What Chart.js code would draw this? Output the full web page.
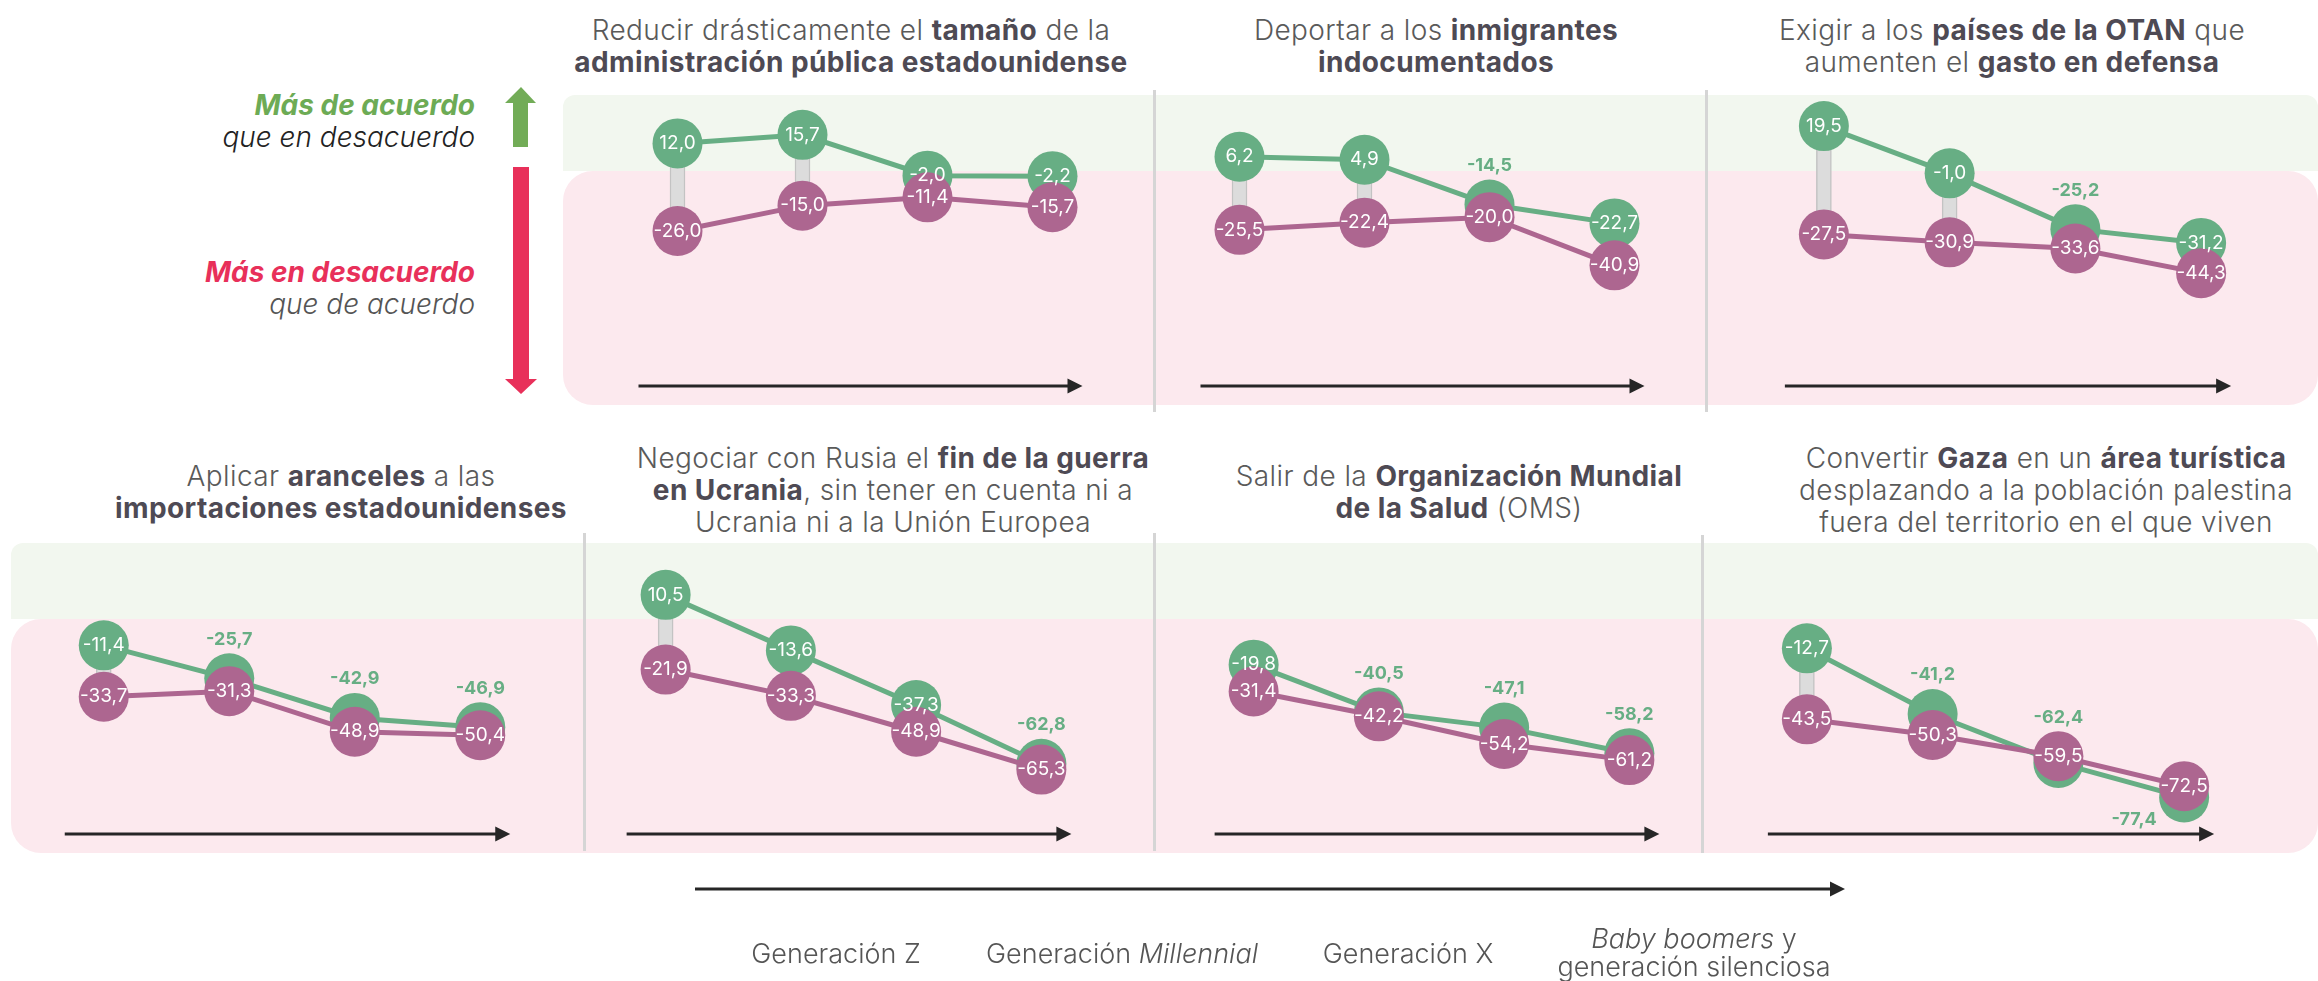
<!DOCTYPE html>
<html lang="es">
<head>
<meta charset="utf-8">
<script src="https://cdn.jsdelivr.net/npm/chart.js@4.4.1/dist/chart.umd.min.js"></script>
<style>
  body { margin: 0; width: 2318px; height: 981px; background: #fff; position: relative; overflow: hidden; font-family: Inter, 'Noto Sans', sans-serif; }
  canvas { position: absolute; }
  .titulo { position: absolute; transform: translateX(-50%); text-align: center; white-space: nowrap;
            font-size: 28px; letter-spacing: 0.4px; line-height: 32px; color: #5a5a5a; font-weight: 300; }
  .titulo b { font-weight: 700; color: #4e4a54; }
  .sep { position: absolute; width: 3px; background: #d5d5d5; z-index: 5; }
  .leyenda { position: absolute; right: 1843px; text-align: right; font-style: italic; font-size: 28px; line-height: 32px; white-space: nowrap; }
</style>
</head>
<body>

<div class="leyenda" style="top:89px">
  <div style="color:#6dab55;font-weight:700">Más de acuerdo</div>
  <div style="color:#222;font-weight:300">que en desacuerdo</div>
</div>
<div class="leyenda" style="top:256px">
  <div style="color:#e8305a;font-weight:700">Más en desacuerdo</div>
  <div style="color:#555;font-weight:300">que de acuerdo</div>
</div>
<svg width="2318" height="981" style="position:absolute;left:0;top:0;pointer-events:none">
  <polygon points="521,87 536,103 528,103 528,147 513,147 513,103 505,103" fill="#72ac57"/>
  <polygon points="513,167 529,167 529,379 537,379 521,394 505,379 513,379" fill="#e8305a"/>
</svg>

<div class="sep" style="left:1153px;top:90px;height:322px"></div>
<div class="sep" style="left:1705px;top:90px;height:322px"></div>
<div class="sep" style="left:583px;top:533px;height:318px"></div>
<div class="sep" style="left:1153px;top:533px;height:318px"></div>
<div class="sep" style="left:1701px;top:535px;height:318px"></div>

<script>
const generaciones = ['Generación Z', 'Generación Millennial', 'Generación X', ['Baby boomers y', 'generación silenciosa']];
const cursivas = ['Millennial', 'Baby boomers'];

// dos series por pregunta, un valor por generación
const verdeAdministracion = [12.0, 15.7, -2.0, -2.2];
const moradoAdministracion = [-26.0, -15.0, -11.4, -15.7];
const verdeDeportar = [6.2, 4.9, -14.5, -22.7];
const moradoDeportar = [-25.5, -22.4, -20.0, -40.9];
const verdeOtan = [19.5, -1.0, -25.2, -31.2];
const moradoOtan = [-27.5, -30.9, -33.6, -44.3];
const verdeAranceles = [-11.4, -25.7, -42.9, -46.9];
const moradoAranceles = [-33.7, -31.3, -48.9, -50.4];
const verdeUcrania = [10.5, -13.6, -37.3, -62.8];
const moradoUcrania = [-21.9, -33.3, -48.9, -65.3];
const verdeOms = [-19.8, -40.5, -47.1, -58.2];
const moradoOms = [-31.4, -42.2, -54.2, -61.2];
const verdeGaza = [-12.7, -41.2, -62.4, -77.4];
const moradoGaza = [-43.5, -50.3, -59.5, -72.5];

const titulos = [
  'Reducir drásticamente el <b>tamaño</b> de la<br><b>administración pública estadounidense</b>',
  'Deportar a los <b>inmigrantes</b><br><b>indocumentados</b>',
  'Exigir a los <b>países de la OTAN</b> que<br>aumenten el <b>gasto en defensa</b>',
  'Aplicar <b>aranceles</b> a las<br><b>importaciones estadounidenses</b>',
  'Negociar con Rusia el <b>fin de la guerra</b><br><b>en Ucrania</b>, sin tener en cuenta ni a<br>Ucrania ni a la Unión Europea',
  'Salir de la <b>Organización Mundial</b><br><b>de la Salud</b> (OMS)',
  'Convertir <b>Gaza</b> en un <b>área turística</b><br>desplazando a la población palestina<br>fuera del territorio en el que viven'
];

const VERDE = '#67ae84';
const MORADO = '#ad6690';
const filaTop = [95, 543];
const ALTO = 310;

const paneles = [
  { verde: verdeAdministracion, morado: moradoAdministracion, x: 563, w: 591, fila: 0, pad: [52, 39], tx: 851, ty: 14, primero: true },
  { verde: verdeDeportar, morado: moradoDeportar, x: 1154, w: 552, fila: 0, pad: [23, 29], tx: 1436, ty: 14 },
  { verde: verdeOtan, morado: moradoOtan, x: 1706, w: 612, fila: 0, pad: [55, 54], tx: 2012, ty: 14, ultimo: true },
  { verde: verdeAranceles, morado: moradoAranceles, x: 11, w: 573, fila: 1, pad: [30, 41], tx: 341, ty: 460, primero: true },
  { verde: verdeUcrania, morado: moradoUcrania, x: 584, w: 570, fila: 1, pad: [19, 50], tx: 893, ty: 442 },
  { verde: verdeOms, morado: moradoOms, x: 1154, w: 548, fila: 1, pad: [37, 10], tx: 1459, ty: 460 },
  { verde: verdeGaza, morado: moradoGaza, x: 1702, w: 616, fila: 1, pad: [42, 71], tx: 2046, ty: 442, ultimo: true }
];

const fmt = v => v.toFixed(1).replace('.', ',');

function flecha(ctx, xa, xb, y)
{
    ctx.strokeStyle = '#262626';
    ctx.fillStyle = '#262626';
    ctx.lineWidth = 3;
    ctx.beginPath();
    ctx.moveTo(xa, y);
    ctx.lineTo(xb - 12, y);
    ctx.stroke();
    ctx.beginPath();
    ctx.moveTo(xb, y);
    ctx.lineTo(xb - 15, y - 7.5);
    ctx.lineTo(xb - 15, y + 7.5);
    ctx.closePath();
    ctx.fill();
}

// franjas verde/rosa y flecha de cada panel
const fondoPlugin = {
    id: 'fondo',
    beforeDatasetsDraw(chart, args, opts)
    {
        const ctx = chart.ctx;
        const area = chart.chartArea;
        const y0 = chart.scales.y.getPixelForValue(0);
        const w = chart.width;
        const a = opts.primero ? 1 : 0, b = opts.ultimo ? 1 : 0;
        ctx.save();
        ctx.fillStyle = '#f2f7ef';
        ctx.beginPath();
        ctx.roundRect(0, area.top, w, y0 - area.top, [12 * a, 12 * b, 0, 0]);
        ctx.fill();
        ctx.fillStyle = '#fce9ee';
        ctx.beginPath();
        ctx.roundRect(0, y0, w, area.bottom - y0, [30 * a, 30 * b, 30 * b, 30 * a]);
        ctx.fill();
        const x = chart.scales.x;
        flecha(ctx, x.getPixelForValue(0) - 39, x.getPixelForValue(3) + 30, area.bottom - 19);
        ctx.restore();
    }
};

const etiquetasPlugin = {
    id: 'etiquetas',
    afterDatasetsDraw(chart)
    {
        const ctx = chart.ctx;
        const verde = chart.data.datasets[1].data;
        const morado = chart.data.datasets[2].data;
        const mv = chart.getDatasetMeta(1).data;
        const mm = chart.getDatasetMeta(2).data;
        ctx.save();
        ctx.textAlign = 'center';
        ctx.textBaseline = 'middle';
        verde.forEach((v, i) =>
        {
            const g = mv[i], m = mm[i];
            const diff = v - morado[i];
            if (diff >= 9.25)
            {
                ctx.font = '400 19px Inter';
                ctx.fillStyle = '#fff';
                ctx.fillText(fmt(v), g.x, g.y);
            }
            else
            {
                ctx.font = '700 18px Inter';
                ctx.fillStyle = VERDE;
                if (diff >= -4) ctx.fillText(fmt(v), g.x, Math.min(g.y, m.y) - 39);
                else ctx.fillText(fmt(v), g.x - 50, g.y + 22);
            }
        });
        ctx.font = '400 19px Inter';
        ctx.fillStyle = '#fff';
        morado.forEach((v, i) => ctx.fillText(fmt(v), mm[i].x, mm[i].y));
        ctx.restore();
    }
};

paneles.forEach((p, k) =>
{
    const t = document.createElement('div');
    t.className = 'titulo';
    t.style.left = p.tx + 'px';
    t.style.top = p.ty + 'px';
    t.innerHTML = titulos[k];
    document.body.appendChild(t);

    const c = document.createElement('canvas');
    c.width = p.w;
    c.height = ALTO;
    c.style.left = p.x + 'px';
    c.style.top = filaTop[p.fila] + 'px';
    document.body.appendChild(c);

    new Chart(c, {
        type: 'line',
        data: {
            labels: generaciones,
            datasets: [
                {
                    type: 'bar',
                    data: p.verde.map((v, i) => [p.morado[i], v]),
                    backgroundColor: '#dcdcdc',
                    borderColor: '#c3c3c3',
                    borderWidth: 1.5,
                    borderSkipped: false,
                    barThickness: 15,
                    order: 3
                },
                {
                    data: p.verde,
                    borderColor: VERDE,
                    borderWidth: 5,
                    pointRadius: 25,
                    pointHoverRadius: 25,
                    pointBorderWidth: 0,
                    pointBackgroundColor: VERDE,
                    clip: false,
                    order: 2
                },
                {
                    data: p.morado,
                    borderColor: MORADO,
                    borderWidth: 5,
                    pointRadius: 25,
                    pointHoverRadius: 25,
                    pointBorderWidth: 0,
                    pointBackgroundColor: MORADO,
                    clip: false,
                    order: 1
                }
            ]
        },
        options: {
            responsive: false,
            animation: false,
            events: [],
            layout: { autoPadding: false, padding: { left: p.pad[0], right: p.pad[1], top: 0, bottom: 0 } },
            scales: {
                x: { display: false, offset: true },
                y: { display: false, min: -101.5, max: 33 }
            },
            plugins: {
                legend: { display: false },
                tooltip: { enabled: false },
                fondo: { primero: !!p.primero, ultimo: !!p.ultimo }
            }
        },
        plugins: [fondoPlugin, etiquetasPlugin]
    });
});

// eje común de generaciones
const ejePlugin = {
    id: 'eje',
    afterDraw(chart)
    {
        const ctx = chart.ctx;
        const area = chart.chartArea;
        const x = chart.scales.x;
        ctx.save();
        flecha(ctx, area.left + 2, area.right + 8, 19);
        ctx.textBaseline = 'middle';
        ctx.fillStyle = '#555';
        chart.data.labels.forEach((lab, i) =>
        {
            const lineas = Array.isArray(lab) ? lab : [lab];
            const cx = x.getPixelForValue(i);
            lineas.forEach((linea, j) =>
            {
                const y = lineas.length === 1 ? 85 : 70 + j * 28;
                let partes = [[linea, false]];
                cursivas.forEach(cw =>
                {
                    const k = linea.indexOf(cw);
                    if (k >= 0) partes = [[linea.slice(0, k), false], [cw, true], [linea.slice(k + cw.length), false]];
                });
                const fuente = it => (it ? 'italic ' : '') + '300 27px Inter';
                let total = 0;
                partes.forEach(([s, it]) => { ctx.font = fuente(it); total += ctx.measureText(s).width; });
                let px = cx - total / 2;
                ctx.textAlign = 'left';
                partes.forEach(([s, it]) =>
                {
                    ctx.font = fuente(it);
                    ctx.fillText(s, px, y);
                    px += ctx.measureText(s).width;
                });
            });
        });
        ctx.restore();
    }
};

const ejeCanvas = document.createElement('canvas');
ejeCanvas.width = 1180;
ejeCanvas.height = 111;
ejeCanvas.style.left = '680px';
ejeCanvas.style.top = '870px';
document.body.appendChild(ejeCanvas);

new Chart(ejeCanvas, {
    type: 'line',
    data: { labels: generaciones, datasets: [] },
    options: {
        responsive: false,
        animation: false,
        events: [],
        layout: { autoPadding: false, padding: { left: 13, right: 23 } },
        scales: {
            x: { display: false, offset: true },
            y: { display: false }
        },
        plugins: { legend: { display: false }, tooltip: { enabled: false } }
    },
    plugins: [ejePlugin]
});
</script>
</body>
</html>
